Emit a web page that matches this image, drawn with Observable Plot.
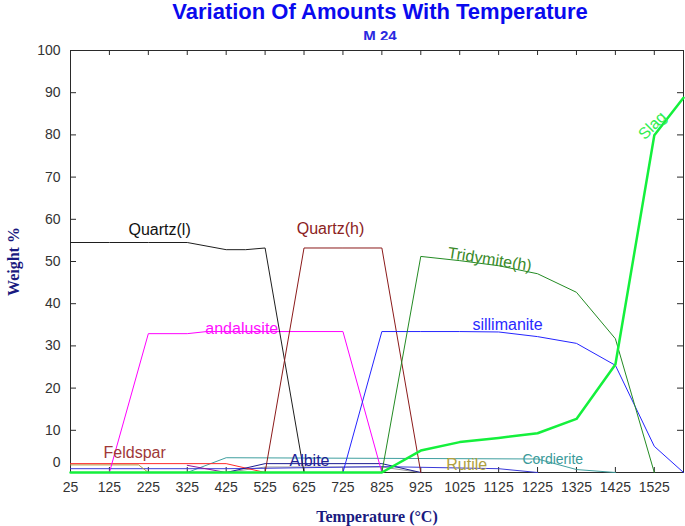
<!DOCTYPE html>
<html><head><meta charset="utf-8">
<script src="https://cdn.jsdelivr.net/npm/d3@7"></script>
<script src="https://cdn.jsdelivr.net/npm/@observablehq/plot@0.6"></script>
<style>
body{margin:0;background:#fff;}
#wrap{position:relative;width:685px;height:526px;font-family:"Liberation Sans",Arial,sans-serif;overflow:hidden;}
#title{position:absolute;left:80px;width:600px;top:0px;text-align:center;font-weight:bold;font-size:22px;line-height:24px;color:#0a0aee;}
#sub{position:absolute;left:80px;width:600px;top:28px;text-align:center;font-weight:bold;font-size:15px;line-height:15px;color:#2a2ae0;}
#chart{position:absolute;left:0;top:40px;}
</style></head><body>
<div id="wrap"><div id="title">Variation Of Amounts With Temperature</div><div id="sub">M 24</div><div id="chart"></div></div>
<script>
const xTicks = [25,125,225,325,425,525,625,725,825,925,1025,1125,1225,1325,1425,1525];
const yTicks = [0,10,20,30,40,50,60,70,80,90,100];

const quartzL = [[25,54.5],[125,54.5],[225,54.5],[325,54.5],[425,52.8],[475,52.8],[525,53.2],[625,0]];
const quartzH = [[525,0],[625,53.2],[725,53.2],[825,53.2],[925,0]];
const andalusite = [[125,0],[225,32.9],[325,32.9],[375,33.4],[525,33.4],[625,33.4],[725,33.4],[825,0]];
const sillimanite = [[725,0],[825,33.4],[925,33.4],[1025,33.4],[1125,33.3],[1225,32.2],[1325,30.6],[1425,25.4],[1525,6.2],[1600,0]];
const tridymite = [[825,0],[925,51.2],[1025,50.2],[1125,49.0],[1225,47.1],[1325,42.7],[1425,31.7],[1525,0]];
const slag = [[25,0],[825,0],[925,5.2],[1025,7.2],[1125,8.2],[1225,9.3],[1325,12.7],[1425,25.6],[1525,79.9],[1600,88.8]];
const feldspar = [[25,2.1],[425,2.1],[525,0]];
const rutile = [[25,1.8],[200,1.8],[225,0]];
const otherBlue = [[25,0.9],[425,0.9],[525,1.0],[825,1.4],[1125,0.9],[1225,0]];
const purple = [[325,1.7],[425,0]];
const albite = [[425,0],[525,2.1],[825,2.1],[925,0]];
const graySeries = [[425,0],[525,1.3],[825,1.3],[925,0]];
const cordierite = [[325,0],[425,3.5],[1225,3.2],[1325,0.7],[1425,0]];

const labelText = ["Quartz(l)","Quartz(h)","andalusite","sillimanite","Tridymite(h)","Slag","Feldspar","Albite","Rutile","Cordierite"];
const labelTemp = [254,693,465,1148,1102,1520,190,639,1043,1264];
const labelValue = [57.6,57.8,34.1,35.0,50.5,82.2,4.6,2.7,1.9,3.1];

const lineSpecs = [
  {pts: cordierite, color:"#3f9f9f", w:1},
  {pts: graySeries, color:"#9a9a9a", w:1},
  {pts: otherBlue, color:"#3a3ad8", w:1},
  {pts: purple, color:"#8a1a9a", w:1},
  {pts: rutile, color:"#b09a40", w:1},
  {pts: feldspar, color:"#ff2a2a", w:1},
  {pts: albite, color:"#1c1c90", w:1},
  {pts: andalusite, color:"#ff00ff", w:1},
  {pts: quartzL, color:"#1e1e1e", w:1},
  {pts: quartzH, color:"#8b1a1a", w:1},
  {pts: sillimanite, color:"#2424ff", w:1},
  {pts: tridymite, color:"#238b23", w:1},
  {pts: slag, color:"#14f03c", w:2.5}
];
const labelStyle = [
  {color:"#111111", size:16, rot:0},
  {color:"#8b2222", size:16, rot:0},
  {color:"#ff10ff", size:16, rot:0},
  {color:"#2a2aff", size:16, rot:0},
  {color:"#3a8a2a", size:16, rot:9},
  {color:"#30ee50", size:16, rot:-45},
  {color:"#a03838", size:16, rot:0},
  {color:"#202095", size:16, rot:0},
  {color:"#b0a040", size:16, rot:0},
  {color:"#3a9a9a", size:14, rot:0}
];

const W = 685, H = 486;
const marks = [
  Plot.frame({stroke:"#2a2a2a"}),
  Plot.tickY(yTicks.slice(1,-1), {y:d=>d, stroke:"#2a2a2a", insetRight:613-6}),
  Plot.tickY(yTicks.slice(1,-1), {y:d=>d, stroke:"#2a2a2a", insetLeft:613-6}),
  Plot.tickX(xTicks.slice(1), {x:d=>d, stroke:"#2a2a2a", insetTop:422-5}),
  Plot.tickX(xTicks.slice(1), {x:d=>d, stroke:"#2a2a2a", insetBottom:422-5}),
  Plot.axisX({ticks:xTicks, tickSize:0, tickPadding:10, fontSize:14, fill:"#333", tickFormat:d=>String(d)}),
  Plot.axisY({ticks:yTicks.filter(d=>d>0), tickSize:0, tickPadding:10, fontSize:14, fill:"#333", tickFormat:d=>String(d)}),
  Plot.text([0], {y:d=>d, text:d=>String(d), frameAnchor:"left", textAnchor:"end", dx:-10, dy:-10, fontSize:14, fill:"#333"}),
  Plot.text(["Weight %"], {frameAnchor:"left", text:d=>d, rotate:-90, textAnchor:"middle", dx:-57, fontFamily:"'Liberation Serif',serif", fontWeight:"bold", fontSize:16, fill:"#1a1a80"}),
  Plot.text(["Temperature (°C)"], {frameAnchor:"bottom", text:d=>d, textAnchor:"middle", lineAnchor:"middle", dy:44, fontFamily:"'Liberation Serif',serif", fontWeight:"bold", fontSize:16, fill:"#1a1a80"})
];
for (const s of lineSpecs) {
  marks.push(Plot.line(s.pts, {x:d=>d[0], y:d=>d[1], stroke:s.color, strokeWidth:s.w}));
}
labelText.forEach((t,i) => {
  const st = labelStyle[i];
  marks.push(Plot.text([i], {x:d=>labelTemp[d], y:d=>labelValue[d], text:d=>labelText[d], fill:st.color, fontSize:st.size, rotate:st.rot}));
});

const chart = Plot.plot({
  width: W, height: H,
  marginLeft: 70, marginRight: 2, marginTop: 10, marginBottom: 54,
  style: {fontFamily:"'Liberation Sans',Arial,sans-serif", background:"#fff", overflow:"visible"},
  x: {domain:[25,1600], axis:null},
  y: {domain:[0,100], axis:null},
  marks
});
document.getElementById("chart").appendChild(chart);
</script></body></html>
